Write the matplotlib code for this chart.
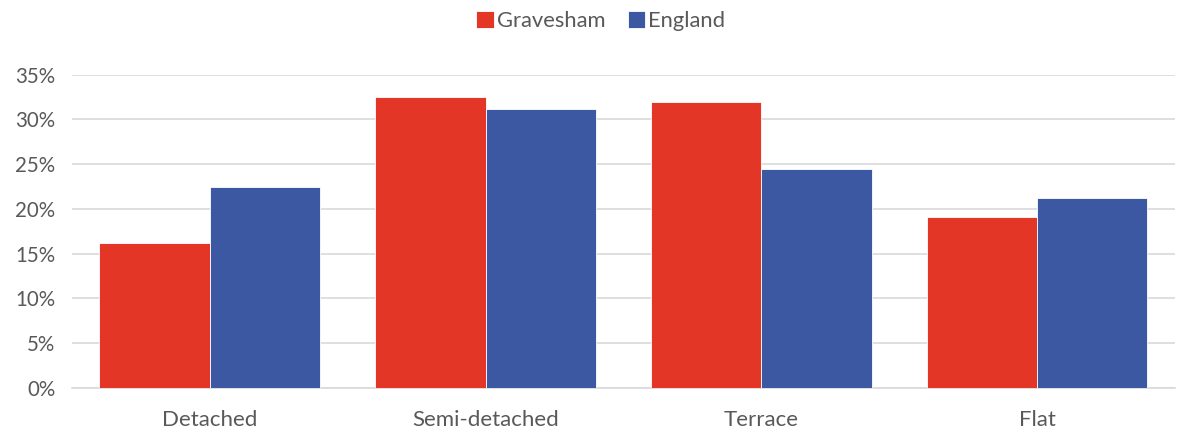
import matplotlib
matplotlib.use("Agg")
import matplotlib.pyplot as plt
import numpy as np
from matplotlib.ticker import FuncFormatter

categories = ["Detached", "Semi-detached", "Terrace", "Flat"]
gravesham = [16.15, 32.5, 31.9, 19.05]
england = [22.45, 31.2, 24.5, 21.2]
series_names = ["Gravesham", "England"]
yticks = [0, 5, 10, 15, 20, 25, 30, 35]

plt.rcParams['font.family'] = ['Lato', 'DejaVu Sans']
text_color = '#595959'

fig = plt.figure(figsize=(11.78, 4.32), dpi=100)
ax = fig.add_axes([0.061, 0.1025, 0.9365, 0.7245])

x = np.arange(len(categories))
w = 0.4
ax.bar(x - w/2, gravesham, w, color='#E33626', edgecolor='white', linewidth=0.6, label=series_names[0], zorder=3)
ax.bar(x + w/2, england, w, color='#3C58A3', edgecolor='white', linewidth=0.6, label=series_names[1], zorder=3)

ax.set_xlim(-0.5, len(categories) - 0.5)
ax.set_ylim(0, 35)
ax.set_yticks(yticks)
ax.yaxis.set_major_formatter(FuncFormatter(lambda v, p: f"{int(v)}%"))
ax.set_xticks(x)
ax.set_xticklabels(categories)
ax.grid(axis='y', color='#D9D9D9', linewidth=1.2, zorder=0)
for s in ['top', 'right', 'left']:
    ax.spines[s].set_visible(False)
ax.spines['bottom'].set_color('#D9D9D9')
ax.spines['bottom'].set_linewidth(1.2)
ax.tick_params(axis='x', length=0, labelsize=16, colors=text_color, pad=16)
ax.tick_params(axis='y', length=0, labelsize=14.8, colors=text_color, pad=12)

leg = fig.legend(loc='upper center', bbox_to_anchor=(0.51, 1.02), ncol=2, frameon=False,
                 fontsize=15.8, handlelength=0.8, handleheight=0.8, columnspacing=1.0, handletextpad=0.15)
for t in leg.get_texts():
    t.set_color(text_color)

fig.savefig("out.png", dpi=100)
